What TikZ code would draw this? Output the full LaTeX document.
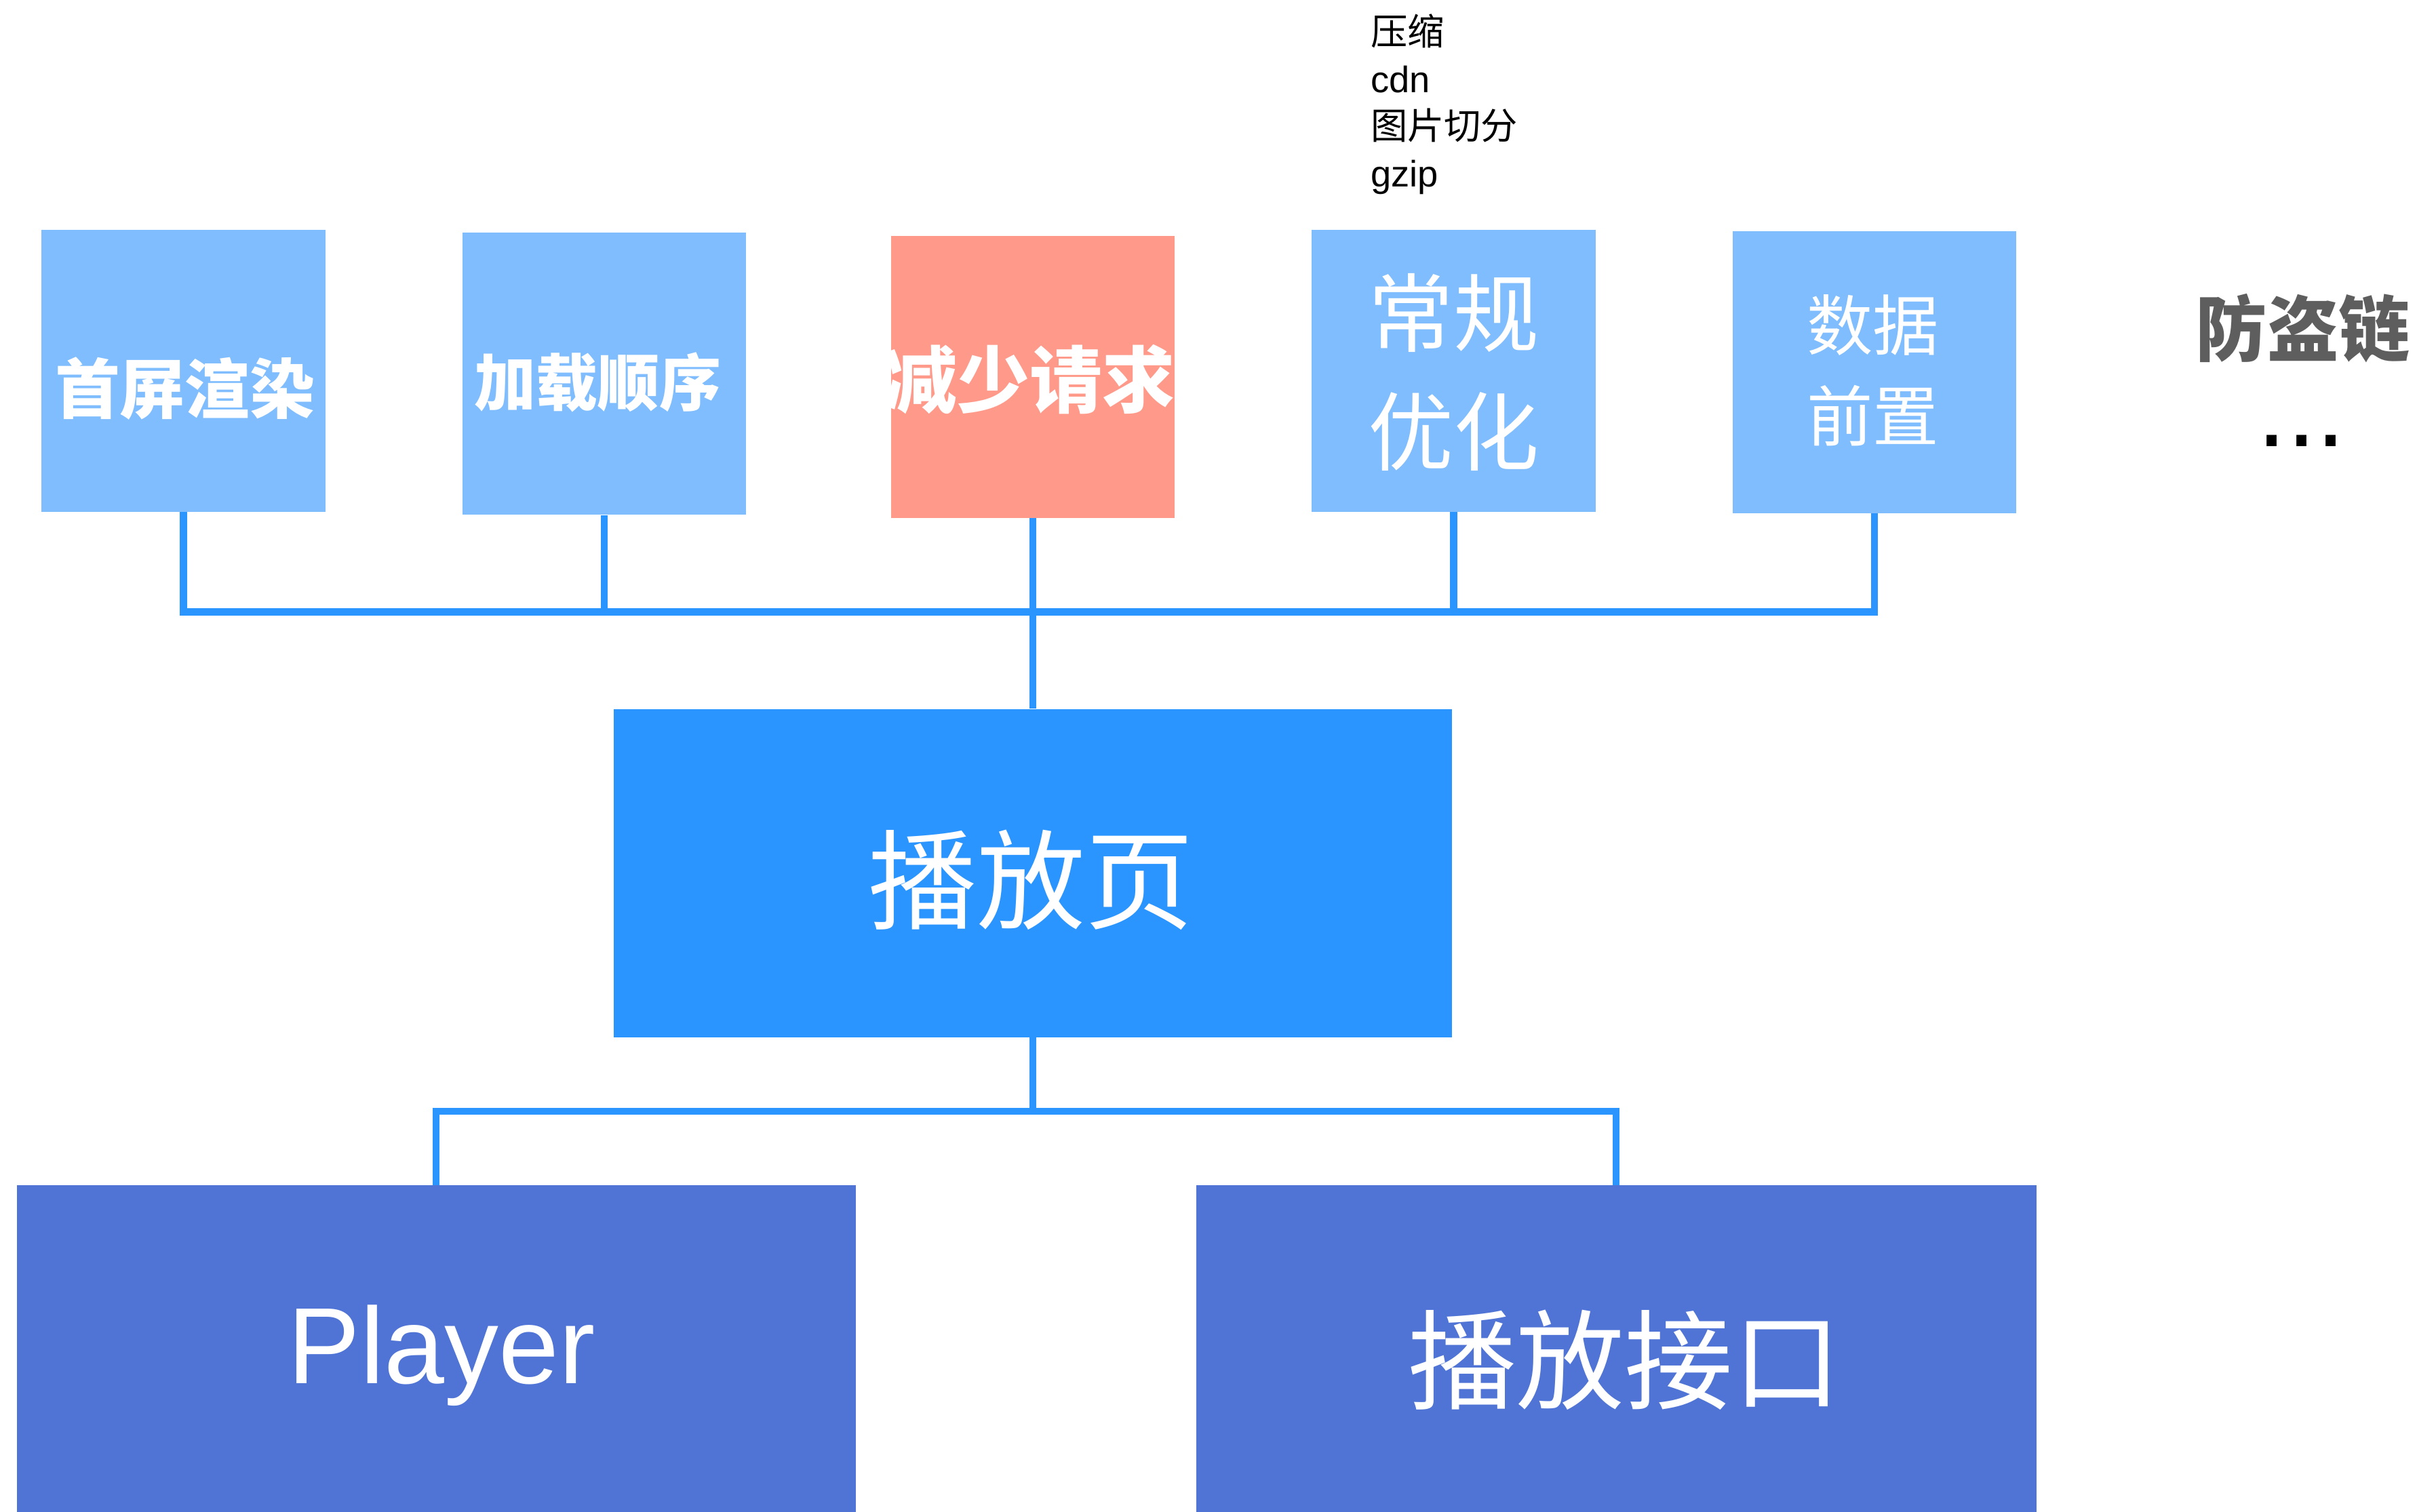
\documentclass[tikz,border=0pt]{standalone}
\usepackage{fontspec}
\setmainfont{Liberation Sans}
\newfontfamily\cjk{Noto Sans CJK SC}
\usepackage{xcolor}

\definecolor{tileblue}{HTML}{7FBDFE}
\definecolor{tilered}{HTML}{FF9A8A}
\definecolor{pageblue}{HTML}{2A94FF}
\definecolor{baseblue}{HTML}{4F74D6}
\definecolor{textgray}{HTML}{5E5E5E}

\tikzset{
  tile/.style={rectangle, fill=#1, inner sep=0pt, minimum width=92mm, minimum height=91.5mm},
  wire/.style={draw=pageblue, line width=6.5pt},
  boxtext/.style={inner sep=0pt, text=white}
}

\begin{document}
\begin{tikzpicture}[x=0.5mm,y=-0.5mm]

  \useasboundingbox (0,0) rectangle (1568,981);
  \clip (0,0) rectangle (1568,981);

  \coordinate (hub) at (670,397);
  \coordinate (fork) at (670,721);

  % top row
  \node[tile=tileblue] (b1) at (119,240.5) {};
  \node[tile=tileblue] (b2) at (392,242.5) {};
  \node[tile=tilered] (b3) at (670,244.5) {};
  \node[tile=tileblue] (b4) at (943,240.5) {};
  \node[tile=tileblue] (b5) at (1216,241.5) {};

  % page and bottom row
  \node[tile=pageblue, minimum width=272mm, minimum height=106.5mm] (page) at (670,566.5) {};
  \node[tile=baseblue, minimum width=272mm, minimum height=115.5mm] (player) at (283,884.5) {};
  \node[tile=baseblue, minimum width=272.5mm, minimum height=115.5mm] (api) at (1048.5,884.5) {};

  \draw[wire] (b1.south) |- (b2.south |- hub);
  \draw[wire] (b2.south) |- (b5.south |- hub) -- (b5.south);
  \draw[wire] (b4.south) -- (b4.south |- hub);
  \draw[wire] (b3.south) -- (page.north);
  \draw[wire] (page.south) -- (fork);
  \draw[wire] (player.north) |- (fork) -| (api.north);

  \node[boxtext, font={\cjk\bfseries\fontsize{60pt}{72pt}\selectfont}] (t1) at (120,252) {首屏渲染};
  \node[boxtext, font={\cjk\bfseries\fontsize{57pt}{68pt}\selectfont}] (t2) at (388,248) {加载顺序};
  \node[boxtext, font={\cjk\bfseries\fontsize{67pt}{80pt}\selectfont}] (t3) at (668,246) {减少请求};
  \node[boxtext, align=center, font={\cjk\fontsize{79pt}{109.5pt}\selectfont}] (t4) at (943,241.5) {常规\\优化};
  \node[boxtext, align=center, font={\cjk\fontsize{61pt}{84pt}\selectfont}] (t5) at (1215,240.5) {数据\\前置};
  \node[boxtext, font={\cjk\fontsize{100pt}{120pt}\selectfont}] (t6) at (669,571) {播放页};
  \node[boxtext, font={\fontsize{100pt}{120pt}\selectfont}] (t7) at (286.5,879.7) {Player};
  \node[boxtext, font={\cjk\fontsize{100pt}{120pt}\selectfont}] (t8) at (1054,882.5) {播放接口};

  % notes on the right
  \node[inner sep=0pt, text=textgray, font={\cjk\bfseries\fontsize{66pt}{80pt}\selectfont}] (guard) at (1494,213) {防盗链};
  \node[inner sep=0pt, anchor=base, font={\fontsize{97pt}{110pt}\selectfont}] (more) at (1493,289.5) {...};
  \node[inner sep=0pt, anchor=north west, align=left, font={\fontsize{34pt}{43.5pt}\selectfont}] (tips) at (889,9)
    {{\cjk 压缩}\\cdn\\{\cjk 图片切分}\\gzip};

\end{tikzpicture}
\end{document}
